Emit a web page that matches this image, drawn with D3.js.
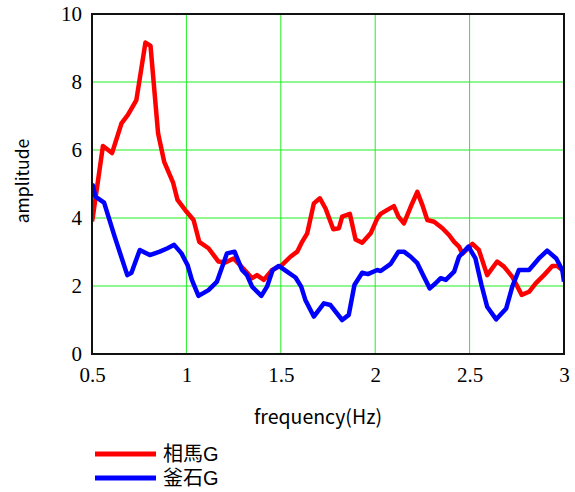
<!DOCTYPE html>
<html>
<head>
<meta charset="utf-8">
<script src="https://cdn.jsdelivr.net/npm/d3@7"></script>
<style>
  html, body { margin: 0; padding: 0; background: #fff; }
  svg { display: block; }
</style>
</head>
<body>
<svg id="chart" width="575" height="492"></svg>
<script>
// Spectral amplitude of two stations
const xTicks = [0.5, 1, 1.5, 2, 2.5, 3];
const yTicks = [0, 2, 4, 6, 8, 10];
const seriesNames = ["相馬G", "釜石G"];
const seriesColors = ["#ff0000", "#0000ff"];

const somaFreq = [0.50, 0.505, 0.558, 0.606, 0.656, 0.69, 0.735, 0.783, 0.81, 0.85, 0.882, 0.93, 0.953, 1.0,
  1.038, 1.068, 1.117, 1.17, 1.206, 1.25, 1.295, 1.348, 1.374, 1.41, 1.454, 1.507,
  1.551, 1.587, 1.613, 1.64, 1.675, 1.707, 1.737, 1.778, 1.808, 1.825, 1.866, 1.896, 1.931, 1.976, 2.011,
  2.029, 2.064, 2.099, 2.123, 2.152, 2.188, 2.223, 2.25, 2.276, 2.312, 2.356, 2.391, 2.418, 2.444, 2.462, 2.48, 2.515,
  2.549, 2.593, 2.646, 2.682, 2.726, 2.776, 2.815, 2.85, 2.894, 2.938, 2.965, 2.991, 3.0];
const somaAmp = [3.9, 4.05, 6.12, 5.91, 6.78, 7.03, 7.47, 9.16, 9.06, 6.49, 5.66, 5.03, 4.53, 4.19,
  3.94, 3.30, 3.11, 2.72, 2.69, 2.81, 2.55, 2.23, 2.32, 2.18, 2.47, 2.62,
  2.86, 3.01, 3.30, 3.55, 4.43, 4.58, 4.28, 3.67, 3.70, 4.04, 4.12, 3.37, 3.27, 3.55, 3.99,
  4.12, 4.24, 4.35, 4.04, 3.84, 4.33, 4.77, 4.38, 3.94, 3.89, 3.70, 3.50, 3.30, 3.16, 2.95, 3.05, 3.24,
  3.06, 2.32, 2.72, 2.57, 2.27, 1.74, 1.83, 2.08, 2.32, 2.59, 2.59, 2.47, 2.52];

const kamaishiFreq = [0.50, 0.505, 0.518, 0.564, 0.62, 0.687, 0.709, 0.753, 0.806, 0.859, 0.90, 0.935, 0.974, 1.006,
  1.029, 1.064, 1.117, 1.162, 1.215, 1.255, 1.295, 1.321, 1.348, 1.397, 1.427, 1.457, 1.489, 1.533,
  1.578, 1.608, 1.63, 1.675, 1.728, 1.763, 1.825, 1.86, 1.89, 1.931, 1.961, 2.011,
  2.029, 2.082, 2.123, 2.152, 2.188, 2.223, 2.258, 2.289, 2.32, 2.347, 2.374, 2.418, 2.444, 2.494, 2.531,
  2.563, 2.593, 2.641, 2.694, 2.726, 2.761, 2.815, 2.867, 2.911, 2.959, 2.991, 3.0];
const kamaishiAmp = [5.0, 4.95, 4.63, 4.45, 3.45, 2.32, 2.39, 3.06, 2.91, 3.01, 3.11, 3.21, 2.96, 2.62,
  2.18, 1.71, 1.88, 2.13, 2.96, 3.01, 2.47, 2.32, 1.98, 1.71, 1.98, 2.47, 2.59, 2.42,
  2.25, 1.98, 1.59, 1.10, 1.49, 1.44, 1.0, 1.15, 2.03, 2.39, 2.35, 2.47,
  2.44, 2.65, 3.01, 3.01, 2.86, 2.67, 2.27, 1.93, 2.08, 2.23, 2.18, 2.42, 2.86, 3.16, 2.81,
  2.03, 1.39, 1.02, 1.34, 1.98, 2.47, 2.47, 2.81, 3.04, 2.81, 2.47, 2.13];

const svg = d3.select("#chart");
const plot = { left: 92, right: 564, top: 14, bottom: 354 };

const x = d3.scaleLinear().domain([0.5, 3]).range([plot.left, plot.right]);
const y = d3.scaleLinear().domain([0, 10]).range([plot.bottom, plot.top]);

// grid
const grid = svg.append("g");
grid.selectAll("line.v").data(xTicks.slice(1, -1)).join("line")
  .attr("x1", d => x(d)).attr("x2", d => x(d))
  .attr("y1", plot.top).attr("y2", plot.bottom)
  .attr("stroke", "#22ee22").attr("stroke-width", 1);
grid.selectAll("line.h").data(yTicks.slice(1, -1)).join("line")
  .attr("x1", plot.left).attr("x2", plot.right)
  .attr("y1", d => y(d)).attr("y2", d => y(d))
  .attr("stroke", "#22ee22").attr("stroke-width", 1);

// series
svg.append("clipPath").attr("id", "clip").append("rect")
  .attr("x", plot.left).attr("y", plot.top)
  .attr("width", plot.right - plot.left).attr("height", plot.bottom - plot.top);

const line = d3.line().x(d => x(d[0])).y(d => y(d[1]));
const series = [
  d3.zip(somaFreq, somaAmp),
  d3.zip(kamaishiFreq, kamaishiAmp)
];
svg.append("g").attr("clip-path", "url(#clip)")
  .selectAll("path").data(series).join("path")
  .attr("d", line)
  .attr("fill", "none")
  .attr("stroke", (d, i) => seriesColors[i])
  .attr("stroke-width", 4.5)
  .attr("stroke-linejoin", "round");

// frame
svg.append("rect")
  .attr("x", plot.left).attr("y", plot.top)
  .attr("width", plot.right - plot.left).attr("height", plot.bottom - plot.top)
  .attr("fill", "none").attr("stroke", "#111").attr("stroke-width", 2);

// axes labels
const xAxis = d3.axisBottom(x).tickValues(xTicks).tickSize(0).tickPadding(13)
  .tickFormat(d3.format("~g"));
const gx = svg.append("g").attr("transform", `translate(0,${plot.bottom})`).call(xAxis);
gx.select(".domain").remove();
gx.selectAll("text").attr("font-family", "'Liberation Serif', 'Times New Roman', serif")
  .attr("font-size", 21).attr("fill", "#000");

const yAxis = d3.axisLeft(y).tickValues(yTicks).tickSize(0).tickPadding(10)
  .tickFormat(d3.format("~g"));
const gy = svg.append("g").attr("transform", `translate(${plot.left},0)`).call(yAxis);
gy.select(".domain").remove();
gy.selectAll("text").attr("font-family", "'Liberation Serif', 'Times New Roman', serif")
  .attr("font-size", 21).attr("fill", "#000");

svg.append("text")
  .attr("x", 318).attr("y", 424)
  .attr("text-anchor", "middle")
  .attr("font-family", "'Noto Sans CJK JP', 'Noto Sans', sans-serif")
  .attr("font-size", 19.5)
  .text("frequency(Hz)");

svg.append("text")
  .attr("transform", "translate(29,181) rotate(-90)")
  .attr("text-anchor", "middle")
  .attr("font-family", "'Noto Sans CJK JP', 'Noto Sans', sans-serif")
  .attr("font-size", 17.5)
  .text("amplitude");

// legend
const legend = svg.append("g");
const items = legend.selectAll("g").data(seriesNames).join("g")
  .attr("transform", (d, i) => `translate(95,${454 + i * 24})`);
items.append("line")
  .attr("x1", 0).attr("x2", 61).attr("y1", 0).attr("y2", 0)
  .attr("stroke", (d, i) => seriesColors[i]).attr("stroke-width", 5);
items.append("text")
  .attr("x", 68).attr("y", 0).attr("dy", "0.36em")
  .attr("font-family", "'Liberation Sans', 'Noto Sans CJK JP', sans-serif")
  .attr("font-size", 20)
  .text(d => d);
</script>
</body>
</html>
